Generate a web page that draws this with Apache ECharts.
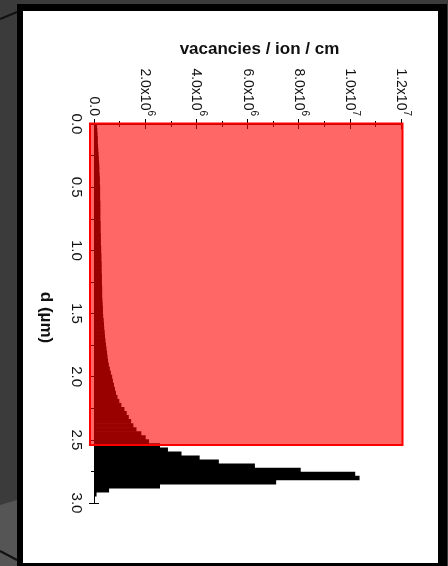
<!DOCTYPE html>
<html>
<head>
<meta charset="utf-8">
<script src="https://cdn.jsdelivr.net/npm/echarts@6/dist/echarts.min.js"></script>
<style>
  html, body { margin: 0; padding: 0; background: #3b3b3b; }
  #chart { width: 448px; height: 566px; }
</style>
</head>
<body>
<div id="chart"></div>
<script>
// Depth histogram of vacancies produced per ion (bins of 0.032 µm from the surface)
const binWidth = 0.032; // µm
const vacanciesMillions = [
  0.12, 0.13, 0.14, 0.15, 0.15, 0.16, 0.17, 0.18, 0.19, 0.20,
  0.21, 0.21, 0.22, 0.23, 0.23, 0.24, 0.24, 0.24, 0.24, 0.25,
  0.25, 0.25, 0.25, 0.25, 0.26, 0.26, 0.26, 0.27, 0.27, 0.27,
  0.28, 0.28, 0.29, 0.29, 0.30, 0.30, 0.30, 0.31, 0.31, 0.31,
  0.32, 0.32, 0.32, 0.33, 0.34, 0.35, 0.35, 0.36, 0.38, 0.39,
  0.40, 0.42, 0.43, 0.45, 0.47, 0.49, 0.51, 0.53, 0.55, 0.58,
  0.62, 0.66, 0.71, 0.74, 0.78, 0.82, 0.86, 0.92, 0.99, 1.07,
  1.19, 1.28, 1.36, 1.45, 1.54, 1.66, 1.85, 2.02, 2.15, 2.58,
  2.89, 3.42, 4.13, 4.88, 6.29, 8.08, 10.21, 10.38, 7.12, 2.58,
  0.59, 0.10, 0.03
];
const vacancies = vacanciesMillions.map(v => v * 1e6);

// Implanted layer shown as a shaded band
const layerDepth = 2.54; // µm

// Axis ranges and tick labels
const vacancyMax = 1.2e7;
const vacancyStep = 2e6;
const vacancyTickLabels = [
  '0.0', '2.0x10{sup|6}', '4.0x10{sup|6}', '6.0x10{sup|6}',
  '8.0x10{sup|6}', '1.0x10{sup|7}', '1.2x10{sup|7}'
];
const depthMax = 3.0;
const depthStep = 0.5;
const depthTickLabels = ['0.0', '0.5', '1.0', '1.5', '2.0', '2.5', '3.0'];

const FONT = 'Liberation Sans, Arial, sans-serif';

const chart = echarts.init(document.getElementById('chart'), null, { renderer: 'canvas' });

const tickCommon = {
  axisLine: { show: true, lineStyle: { color: '#000', width: 1 } },
  axisTick: { show: true, inside: false, length: 5, lineStyle: { color: '#000' } },
  minorTick: { show: true, splitNumber: 2, length: 3, lineStyle: { color: '#000' } },
  splitLine: { show: false },
  minorSplitLine: { show: false }
};

const vacancyAxis = (pos, labels) => Object.assign({
  type: 'value', position: pos, min: 0, max: vacancyMax, interval: vacancyStep,
  axisLabel: labels ? {
    show: true, rotate: -90, margin: 8, fontFamily: FONT, fontSize: 14, color: '#111',
    lineHeight: 22,
    formatter: (v) => vacancyTickLabels[Math.round(v / vacancyStep)],
    rich: { sup: { fontSize: 10, fontFamily: FONT, color: '#111', verticalAlign: 'top', lineHeight: 11 } }
  } : { show: false }
}, tickCommon);

const depthAxis = (pos, labels) => Object.assign({
  type: 'value', position: pos, inverse: true, min: 0, max: depthMax, interval: depthStep,
  axisLabel: labels ? {
    show: true, rotate: -90, margin: 10, fontFamily: FONT, fontSize: 15, color: '#111',
    formatter: (v) => depthTickLabels[Math.round(v / depthStep)]
  } : { show: false }
}, tickCommon);

const xTop = vacancyAxis('top', true);
xTop.name = 'vacancies / ion / cm';
xTop.nameLocation = 'middle';
xTop.nameGap = 66;
xTop.nameTextStyle = { fontFamily: FONT, fontSize: 17, fontWeight: 'bold', color: '#111', padding: [0, 0, 0, 24] };

const yLeft = depthAxis('left', true);
yLeft.name = 'd (µm)';
yLeft.nameLocation = 'middle';
yLeft.nameRotate = -90;
yLeft.nameGap = 40;
yLeft.nameTextStyle = { fontFamily: FONT, fontSize: 17, fontWeight: 'bold', color: '#111', padding: [0, 0, 0, 8] };

const option = {
  animation: false,
  backgroundColor: '#3b3b3b',
  graphic: [
    // dark surroundings
    { type: 'polygon', silent: true, z: -10, shape: { points: [[0, 505], [17, 500], [17, 566], [0, 566]] }, style: { fill: '#555' } },
    { type: 'polyline', silent: true, z: -9, shape: { points: [[0, 19], [17, 12]] }, style: { stroke: '#111', lineWidth: 2 } },
    { type: 'polyline', silent: true, z: -9, shape: { points: [[0, 551], [17, 560]] }, style: { stroke: '#111', lineWidth: 2 } },
    // frame and white panel
    { type: 'rect', silent: true, z: -8, shape: { x: 17, y: 4, width: 430, height: 570 }, style: { fill: '#000' } },
    { type: 'rect', silent: true, z: -7, shape: { x: 23, y: 11, width: 415, height: 552 }, style: { fill: '#fff' } }
  ],
  grid: { left: 94, right: 47, top: 124, bottom: 63, containLabel: false },
  xAxis: [xTop, vacancyAxis('bottom', false)],
  yAxis: [yLeft, depthAxis('right', false)],
  series: [
    {
      name: 'vacancies',
      type: 'custom',
      xAxisIndex: 0,
      yAxisIndex: 0,
      z: 2,
      data: vacancies.map((v, i) => [v, i * binWidth, (i + 1) * binWidth]),
      encode: { x: 0, y: [1, 2] },
      renderItem: (params, api) => {
        const a = api.coord([0, api.value(1)]);
        const b = api.coord([api.value(0), api.value(2)]);
        return {
          type: 'rect',
          shape: { x: a[0], y: a[1], width: b[0] - a[0], height: b[1] - a[1] + 0.6 },
          style: { fill: '#000' }
        };
      }
    },
    {
      name: 'layer',
      type: 'custom',
      xAxisIndex: 0,
      yAxisIndex: 0,
      z: 5,
      data: [[0, vacancyMax, 0, layerDepth]],
      encode: { x: [0, 1], y: [2, 3] },
      renderItem: (params, api) => {
        const a = api.coord([api.value(0), api.value(2)]);
        const b = api.coord([api.value(1), api.value(3)]);
        return {
          type: 'rect',
          shape: { x: a[0] - 4, y: a[1] - 0.5, width: b[0] - a[0] + 5.5, height: b[1] - a[1] + 0.5 },
          style: { fill: 'rgba(255,0,0,0.6)', stroke: '#ff0000', lineWidth: 2 }
        };
      }
    }
  ]
};

chart.setOption(option);
</script>
</body>
</html>
